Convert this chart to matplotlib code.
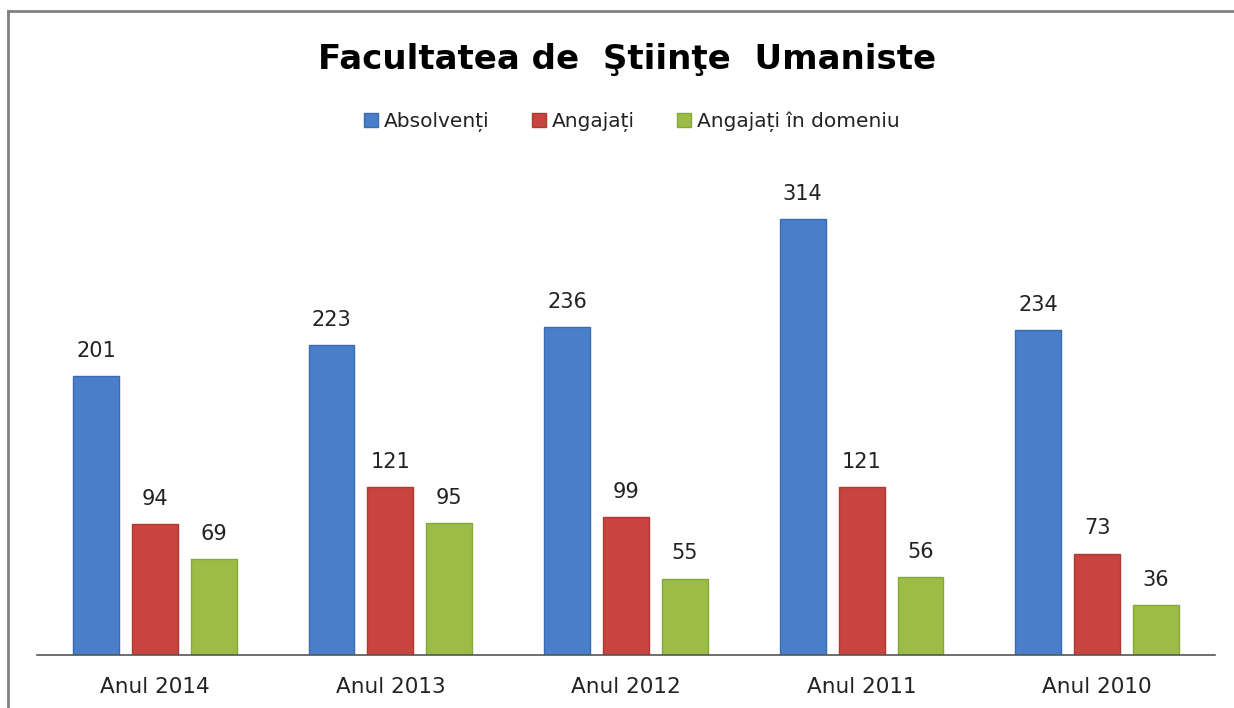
import numpy as np
import matplotlib
matplotlib.use("Agg")
import matplotlib.pyplot as plt
from matplotlib.lines import Line2D

# date
ani = ['Anul 2014', 'Anul 2013', 'Anul 2012', 'Anul 2011', 'Anul 2010']
absolventi = [201, 223, 236, 314, 234]
angajati = [94, 121, 99, 121, 73]
angajati_domeniu = [69, 95, 55, 56, 36]
serii = ['Absolvenți', 'Angajați', 'Angajați în domeniu']

culori = ['#4a7ec8', '#c8443f', '#9bbd48']
margini = ['#3a6bb0', '#b03834', '#86a83a']

plt.rcParams['font.family'] = ['DejaVu Sans']

W, H = 1234, 708
fig = plt.figure(figsize=(W / 100, H / 100), dpi=100)
ax = fig.add_axes([37 / W, 1 - 655 / H, (1215 - 37) / W, (655 - 160) / H])

x = np.arange(len(ani))
latime = 0.195
pas = 0.25
valori = [absolventi, angajati, angajati_domeniu]
for i, (v, c, m, nume) in enumerate(zip(valori, culori, margini, serii)):
    bare = ax.bar(x + (i - 1) * pas, v, width=latime, color=c,
                  edgecolor=m, linewidth=1, label=nume)
    for b, val in zip(bare, v):
        ax.text(b.get_x() + b.get_width() / 2, val + 11, str(val),
                ha='center', va='bottom', fontsize=15, color='#222222')

ax.set_xlim(-0.5, 4.5)
ax.set_ylim(0, 495 / 1.389)
ax.set_xticks(x)
ax.set_xticklabels(ani, fontsize=15.5, color='#222222')
ax.tick_params(axis='x', length=0, pad=16)
ax.set_yticks([])
for s in ['top', 'right', 'left']:
    ax.spines[s].set_visible(False)
ax.spines['bottom'].set_color('#555555')
ax.spines['bottom'].set_linewidth(1.2)

fig.text(0.508, 1 - 60 / H, 'Facultatea de  Ştiinţe  Umaniste', ha='center',
         va='center', fontsize=24.5, fontweight='bold', color='black')

fig.legend(loc='center', bbox_to_anchor=(0.512, 1 - 122 / H), ncol=3,
           frameon=False, fontsize=14.5, handlelength=0.7, handleheight=0.7,
           handletextpad=0.3, columnspacing=2.1, labelcolor='#222222')

# chenar
fig.add_artist(Line2D([8 / W, 8 / W], [0, 1 - 11 / H], transform=fig.transFigure,
                      color='#808080', linewidth=2))
fig.add_artist(Line2D([8 / W, 1], [1 - 11 / H, 1 - 11 / H], transform=fig.transFigure,
                      color='#808080', linewidth=2))

fig.savefig('out.png', dpi=100, facecolor='white')
